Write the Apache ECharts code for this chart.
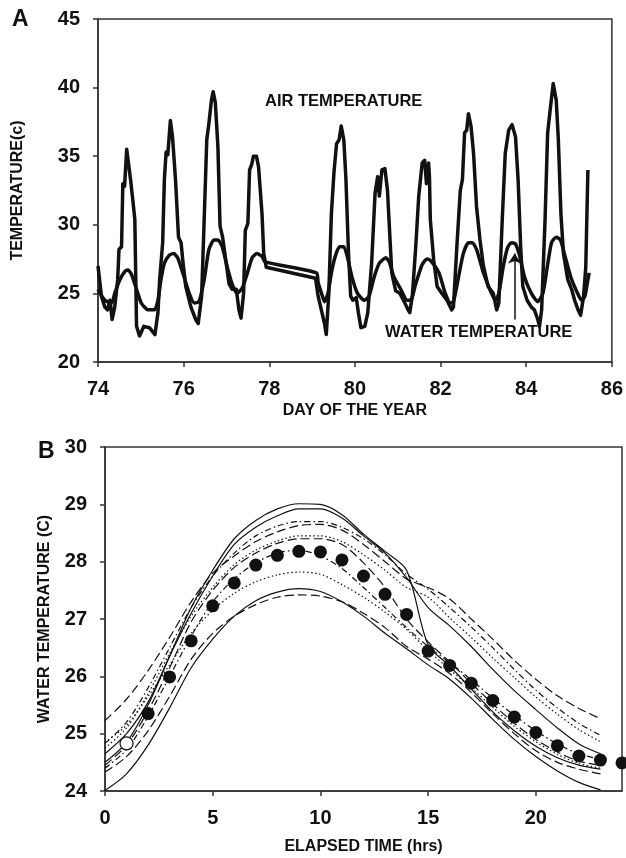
<!DOCTYPE html>
<html>
<head>
<meta charset="utf-8">
<script src="https://cdn.jsdelivr.net/npm/echarts@6/dist/echarts.min.js"></script>
<style>
  html, body { margin: 0; padding: 0; background: #fff; }
  #chart { width: 626px; height: 858px; }
</style>
</head>
<body>
<div id="chart"></div>
<script>
// ---- panel A: day of year vs temperature ----
const airDays = [74.0, 74.08, 74.16, 74.22, 74.28, 74.33, 74.39, 74.46, 74.49, 74.55, 74.58, 74.62, 74.67, 74.70, 74.76, 74.82, 74.86, 74.90, 74.97, 75.07, 75.20, 75.33, 75.40, 75.44, 75.51, 75.55, 75.59, 75.63, 75.69, 75.74, 75.81, 75.88, 75.94, 75.98, 76.05, 76.17, 76.28, 76.34, 76.42, 76.48, 76.54, 76.59, 76.65, 76.69, 76.74, 76.80, 76.85, 76.91, 76.98, 77.06, 77.13, 77.23, 77.29, 77.34, 77.40, 77.44, 77.50, 77.54, 77.59, 77.63, 77.70, 77.75, 77.83, 77.87, 77.93, 79.08, 79.14, 79.23, 79.29, 79.33, 79.39, 79.45, 79.51, 79.57, 79.63, 79.68, 79.74, 79.79, 79.85, 79.90, 79.95, 80.03, 80.08, 80.14, 80.23, 80.30, 80.39, 80.47, 80.53, 80.57, 80.63, 80.70, 80.76, 80.82, 80.86, 80.95, 81.05, 81.15, 81.24, 81.28, 81.34, 81.42, 81.49, 81.57, 81.63, 81.67, 81.72, 81.74, 81.76, 81.84, 81.92, 82.03, 82.15, 82.26, 82.30, 82.38, 82.46, 82.51, 82.56, 82.61, 82.65, 82.71, 82.77, 82.84, 82.92, 83.00, 83.11, 83.23, 83.31, 83.36, 83.44, 83.51, 83.59, 83.67, 83.75, 83.81, 83.87, 83.92, 84.02, 84.12, 84.19, 84.27, 84.31, 84.36, 84.44, 84.50, 84.56, 84.63, 84.70, 84.75, 84.81, 84.87, 84.97, 85.06, 85.13, 85.21, 85.27, 85.34, 85.39, 85.44];
const airTemps = [27.0, 24.8, 24.0, 23.8, 24.5, 23.1, 24.0, 26.0, 28.2, 28.4, 33.0, 32.8, 35.5, 35.6, 33.3, 31.6, 30.4, 22.6, 21.9, 22.6, 22.5, 22.0, 23.6, 26.0, 28.7, 33.3, 35.3, 35.1, 37.6, 36.4, 33.3, 29.1, 28.7, 27.4, 25.5, 24.0, 23.1, 22.8, 24.8, 30.4, 36.2, 37.4, 39.1, 39.7, 38.9, 35.7, 29.9, 29.1, 27.5, 25.7, 25.3, 25.3, 23.8, 23.2, 25.0, 29.6, 30.1, 34.0, 34.4, 35.0, 35.0, 34.2, 30.8, 27.9, 26.9, 26.1, 24.8, 23.6, 22.8, 22.0, 25.0, 30.8, 33.8, 35.9, 36.2, 37.2, 36.2, 33.3, 27.9, 24.8, 24.5, 24.7, 23.6, 22.5, 22.6, 23.6, 27.2, 32.3, 33.5, 32.1, 34.0, 34.1, 32.5, 28.9, 26.5, 25.2, 25.0, 24.4, 23.8, 23.6, 24.8, 28.4, 32.1, 34.5, 34.7, 33.0, 34.5, 33.5, 30.4, 27.4, 25.5, 25.0, 24.5, 23.8, 24.0, 28.4, 32.5, 33.3, 36.7, 36.9, 38.1, 37.2, 35.2, 31.3, 28.9, 27.0, 25.5, 25.0, 23.8, 24.3, 30.4, 35.2, 36.9, 37.3, 36.4, 33.3, 28.4, 25.5, 24.5, 24.0, 23.8, 23.1, 22.6, 23.8, 30.4, 36.7, 38.4, 40.3, 39.1, 36.2, 30.8, 27.9, 26.0, 25.3, 24.5, 23.8, 23.4, 24.8, 26.9, 34.0];
const waterDays = [74.0, 74.16, 74.32, 74.39, 74.51, 74.63, 74.70, 74.78, 74.90, 75.01, 75.17, 75.32, 75.40, 75.47, 75.55, 75.67, 75.77, 75.86, 75.98, 76.13, 76.25, 76.36, 76.48, 76.59, 76.71, 76.80, 76.90, 77.02, 77.13, 77.25, 77.37, 77.46, 77.60, 77.71, 77.83, 77.90, 79.10, 79.14, 79.22, 79.29, 79.37, 79.45, 79.54, 79.64, 79.74, 79.82, 79.93, 80.06, 80.22, 80.33, 80.45, 80.57, 80.72, 80.80, 80.91, 81.07, 81.22, 81.30, 81.42, 81.57, 81.68, 81.76, 81.96, 82.11, 82.23, 82.30, 82.42, 82.53, 82.65, 82.74, 82.84, 83.00, 83.15, 83.28, 83.36, 83.46, 83.56, 83.65, 83.75, 83.85, 83.96, 84.12, 84.27, 84.39, 84.49, 84.59, 84.70, 84.80, 84.89, 85.04, 85.20, 85.29, 85.37, 85.44, 85.47];
const waterTemps = [25.3, 24.5, 24.3, 25.0, 26.0, 26.6, 26.7, 26.4, 25.3, 24.3, 23.8, 23.8, 24.5, 26.0, 27.2, 27.8, 27.9, 27.6, 26.5, 25.0, 24.3, 24.4, 26.0, 28.2, 28.9, 28.9, 28.4, 26.9, 25.7, 25.0, 25.4, 26.2, 27.6, 27.9, 27.7, 27.3, 26.5, 25.8, 25.0, 24.4, 25.0, 26.5, 27.7, 28.4, 28.4, 27.7, 26.2, 25.0, 24.5, 24.8, 26.2, 27.2, 27.6, 27.3, 26.2, 25.3, 24.5, 24.5, 25.7, 27.1, 27.5, 27.4, 26.5, 25.0, 24.3, 24.4, 26.2, 27.9, 28.7, 28.7, 28.2, 26.5, 25.3, 24.5, 25.0, 26.9, 28.3, 28.7, 28.6, 27.7, 26.2, 25.0, 24.4, 25.0, 26.9, 28.7, 29.1, 28.9, 27.9, 26.2, 25.0, 24.5, 24.8, 26.0, 26.5];
const arrowDay = 83.73;
const arrowFrom = 23.1;
const arrowTo = 27.9;

// ---- panel B: elapsed time vs water temperature ----
const hours = [0, 1, 2, 3, 4, 5, 6, 7, 8, 9, 10, 11, 12, 13, 14, 15, 16, 17, 18, 19, 20, 21, 22, 23];
const solidTop = [24.50, 24.85, 25.50, 26.35, 27.20, 27.85, 28.40, 28.72, 28.92, 29.01, 29.00, 28.82, 28.48, 28.18, 27.85, 26.55, 26.18, 25.78, 25.38, 25.05, 24.78, 24.58, 24.45, 24.38];
const solidSecond = [24.65, 25.00, 25.55, 26.35, 27.10, 27.75, 28.30, 28.60, 28.80, 28.92, 28.92, 28.76, 28.45, 28.15, 27.72, 27.20, 26.88, 26.52, 26.12, 25.75, 25.42, 25.10, 24.82, 24.65];
const dashDotHigh = [24.83, 25.20, 25.80, 26.50, 27.20, 27.75, 28.15, 28.45, 28.62, 28.70, 28.70, 28.60, 28.40, 28.12, 27.78, 27.52, 27.20, 26.86, 26.50, 26.12, 25.76, 25.45, 25.18, 24.97];
const longDashHigh = [25.23, 25.60, 26.10, 26.68, 27.30, 27.80, 28.10, 28.35, 28.52, 28.63, 28.65, 28.55, 28.30, 28.00, 27.70, 27.55, 27.35, 27.00, 26.65, 26.28, 25.95, 25.66, 25.44, 25.26];
const dottedHigh = [24.75, 25.10, 25.70, 26.40, 27.05, 27.55, 27.95, 28.20, 28.36, 28.45, 28.45, 28.35, 28.12, 27.85, 27.55, 27.38, 27.02, 26.68, 26.32, 25.98, 25.64, 25.34, 25.07, 24.86];
const longDashMid = [24.45, 24.80, 25.40, 26.15, 26.95, 27.50, 27.90, 28.15, 28.32, 28.40, 28.40, 28.30, 27.98, 27.55, 27.00, 26.60, 26.25, 25.88, 25.52, 25.18, 24.90, 24.68, 24.52, 24.45];
const dashDotMid = [24.40, 24.72, 25.30, 26.00, 26.70, 27.30, 27.70, 27.98, 28.15, 28.20, 28.10, 27.88, 27.55, 27.20, 26.85, 26.52, 26.24, 25.94, 25.62, 25.32, 25.05, 24.82, 24.65, 24.55];
const dottedMid = [24.85, 25.15, 25.65, 26.20, 26.75, 27.15, 27.45, 27.65, 27.77, 27.82, 27.78, 27.60, 27.38, 27.12, 26.82, 26.45, 26.12, 25.80, 25.46, 25.13, 24.86, 24.64, 24.48, 24.40];
const solidLow = [24.01, 24.30, 24.80, 25.45, 26.15, 26.65, 27.05, 27.32, 27.47, 27.53, 27.48, 27.30, 27.05, 26.75, 26.48, 26.20, 25.95, 25.62, 25.25, 24.90, 24.60, 24.35, 24.15, 24.02];
const longDashLow = [24.33, 24.60, 25.05, 25.65, 26.30, 26.75, 27.05, 27.25, 27.38, 27.42, 27.40, 27.30, 27.10, 26.85, 26.52, 26.30, 26.05, 25.72, 25.35, 25.00, 24.70, 24.50, 24.38, 24.30];
const obsHours = [1, 2, 3, 4, 5, 6, 7, 8, 9, 10, 11, 12, 13, 14, 15, 16, 17, 18, 19, 20, 21, 22, 23, 24];
const obsTemps = [24.83, 25.35, 25.99, 26.62, 27.23, 27.63, 27.94, 28.11, 28.18, 28.17, 28.03, 27.75, 27.43, 27.08, 26.44, 26.19, 25.88, 25.58, 25.29, 25.02, 24.79, 24.61, 24.54, 24.49];

const FONT = 'Liberation Sans'
const INK = '#111'

const zip = (xs, ys) => xs.map((x, i) => [x, ys[i]])

const chart = echarts.init(document.getElementById('chart'), null, { renderer: 'canvas' })

const axisCommon = {
  axisLine: { show: true, lineStyle: { color: '#333', width: 1.5 } },
  axisTick: { show: true, inside: false, length: 5, lineStyle: { color: '#333', width: 1.5 } },
  splitLine: { show: false },
  axisLabel: { color: INK, fontFamily: FONT, fontWeight: 'bold', fontSize: 20, margin: 17 },
  nameLocation: 'middle',
  nameTextStyle: { color: INK, fontFamily: FONT, fontWeight: 'bold', fontSize: 16 }
}

const modelLine = (data, type) => ({
  type: 'line',
  xAxisIndex: 1,
  yAxisIndex: 1,
  data: zip(hours, data),
  showSymbol: false,
  smooth: 0.3,
  silent: true,
  lineStyle: { color: INK, width: 1.2, type: type }
})

const LONG = [9, 4]
const DASHDOT = [6, 3, 1.5, 3]
const DOT = [1.5, 2.5]

chart.setOption({
  backgroundColor: '#fff',
  animation: false,
  grid: [
    { left: 98, right: 10, top: 19, height: 343, show: true, borderColor: '#333', borderWidth: 1.5 },
    { left: 105, right: 4, top: 447, height: 344, show: true, borderColor: '#333', borderWidth: 1.5 }
  ],
  xAxis: [
    {
      ...axisCommon, gridIndex: 0, type: 'value', min: 74, max: 86, interval: 2,
      name: 'DAY OF THE YEAR', nameGap: 41
    },
    {
      ...axisCommon, gridIndex: 1, type: 'value', min: 0, max: 24, interval: 5,
      axisTick: { ...axisCommon.axisTick, customValues: [0, 5, 10, 15, 20] },
      axisLabel: { ...axisCommon.axisLabel, customValues: [0, 5, 10, 15, 20] },
      name: 'ELAPSED TIME (hrs)', nameGap: 48
    }
  ],
  yAxis: [
    {
      ...axisCommon, gridIndex: 0, type: 'value', min: 20, max: 45, interval: 5,
      axisLabel: { ...axisCommon.axisLabel, margin: 18 },
      name: 'TEMPERATURE(c)', nameGap: 72
    },
    {
      ...axisCommon, gridIndex: 1, type: 'value', min: 24, max: 30, interval: 1,
      axisLabel: { ...axisCommon.axisLabel, margin: 18 },
      name: 'WATER TEMPERATURE (C)', nameGap: 52
    }
  ],
  graphic: [
    { type: 'text', left: 12, top: 8, style: { text: 'A', font: 'bold 23px "Liberation Sans"', fill: INK } },
    { type: 'text', left: 38, top: 440, style: { text: 'B', font: 'bold 23px "Liberation Sans"', fill: INK } },
    { type: 'text', left: 265, top: 93, style: { text: 'AIR TEMPERATURE', font: 'bold 16.5px "Liberation Sans"', fill: INK } },
    { type: 'text', left: 385, top: 324, style: { text: 'WATER TEMPERATURE', font: 'bold 16.5px "Liberation Sans"', fill: INK } }
  ],
  series: [
    {
      name: 'air', type: 'line', xAxisIndex: 0, yAxisIndex: 0,
      data: zip(airDays, airTemps), showSymbol: false, silent: true,
      lineStyle: { color: INK, width: 3.5, join: 'round' }
    },
    {
      name: 'water', type: 'line', xAxisIndex: 0, yAxisIndex: 0,
      data: zip(waterDays, waterTemps), showSymbol: false, silent: true, smooth: 0.2,
      lineStyle: { color: INK, width: 3.5, join: 'round' },
      markLine: {
        silent: true, symbol: ['none', 'arrow'], symbolSize: 10,
        lineStyle: { color: INK, width: 1.5, type: 'solid' }, label: { show: false },
        data: [[{ coord: [arrowDay, arrowFrom] }, { coord: [arrowDay, arrowTo] }]]
      }
    },
    modelLine(solidTop, 'solid'),
    modelLine(solidSecond, 'solid'),
    modelLine(dashDotHigh, DASHDOT),
    modelLine(longDashHigh, LONG),
    modelLine(dottedHigh, DOT),
    modelLine(longDashMid, LONG),
    modelLine(dashDotMid, DASHDOT),
    modelLine(dottedMid, DOT),
    modelLine(solidLow, 'solid'),
    modelLine(longDashLow, LONG),
    {
      type: 'scatter', xAxisIndex: 1, yAxisIndex: 1, silent: true, clip: false,
      symbolSize: 13, z: 5,
      data: zip(obsHours, obsTemps).map((p, i) => ({
        value: p,
        itemStyle: i === 0
          ? { color: '#fff', borderColor: INK, borderWidth: 1.2, opacity: 1 }
          : { color: INK, opacity: 1 }
      }))
    }
  ]
})
</script>
</body>
</html>
